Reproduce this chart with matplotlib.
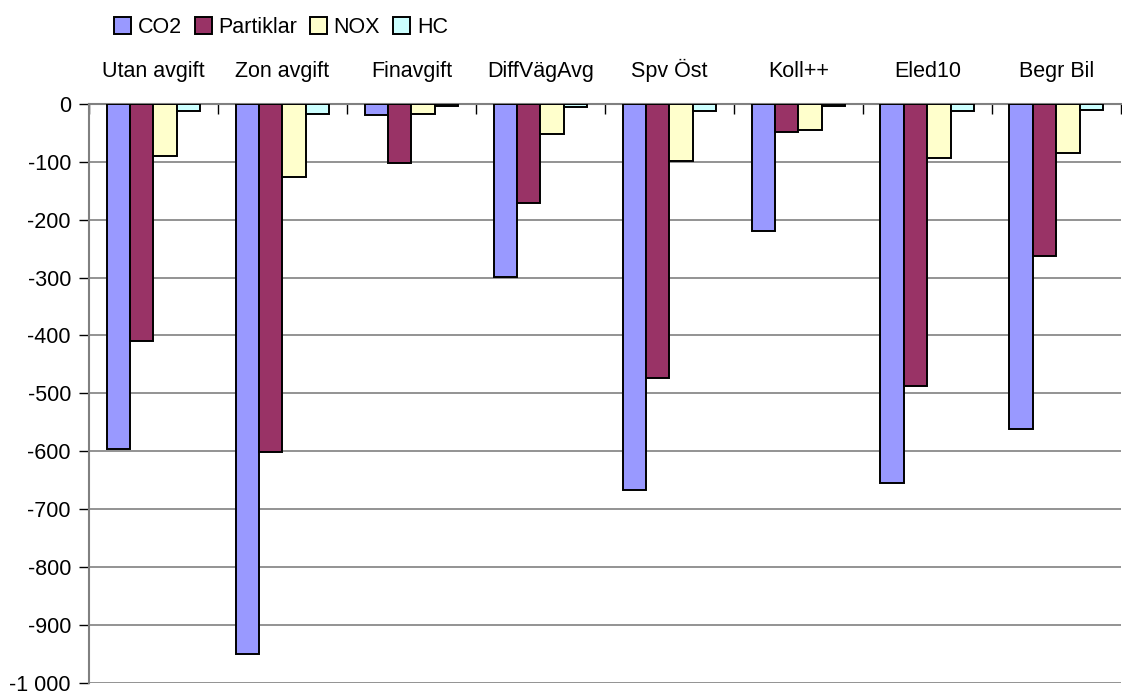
import matplotlib.pyplot as plt
import matplotlib.ticker as mticker
import numpy as np

plt.rcParams['font.family'] = ['Liberation Sans', 'DejaVu Sans']

# Data
categories = ["Utan avgift", "Zon avgift", "Finavgift", "DiffVägAvg",
              "Spv Öst", "Koll++", "Eled10", "Begr Bil"]
series_names = ["CO2", "Partiklar", "NOX", "HC"]
co2 = [-596, -951, -19, -299, -667, -219, -655, -562]
partiklar = [-409, -602, -102, -171, -473, -49, -487, -263]
nox = [-90, -126, -18, -52, -98, -45, -94, -85]
hc = [-12, -17, -3, -5, -12, -3, -12, -10]
colors = ['#9999FF', '#993366', '#FFFFCC', '#CCFFFF']

fig = plt.figure(figsize=(11.22, 6.93), dpi=100)
ax = fig.add_axes([0.0793, 0.015, 0.9197, 0.835])

x = np.arange(len(categories))
w = 1 / 5.5
handles = []
for i, (vals, col, name) in enumerate(zip([co2, partiklar, nox, hc], colors, series_names)):
    b = ax.bar(x + (i - 1.5) * w, vals, width=w, color=col, edgecolor='black',
               linewidth=1.4, label=name, zorder=3)
    handles.append(b)

ax.set_xlim(-0.5, len(categories) - 0.5)
ax.set_ylim(-1000, 0)
ax.set_yticks(np.arange(-1000, 1, 100))
ax.yaxis.set_major_formatter(mticker.FuncFormatter(
    lambda v, p: f"{int(v):,}".replace(",", " ")))
ax.grid(axis='y', color='#808080', linewidth=1.2, zorder=0)

ax.xaxis.tick_top()
ax.set_xticks(x)
ax.set_xticklabels(categories)
ax.set_xticks(np.arange(-0.5, len(categories)), minor=True)
ax.tick_params(axis='x', which='major', length=0, pad=16, labelsize=15.5)
ax.tick_params(axis='x', which='minor', direction='in', length=7, width=1, color='black')
ax.tick_params(axis='y', direction='out', length=7, width=1, labelsize=15.5, pad=6)

for s in ['right', 'bottom']:
    ax.spines[s].set_visible(False)
ax.spines['left'].set_color('#808080')
ax.spines['left'].set_linewidth(1.5)
ax.spines['top'].set_color('#808080')
ax.spines['top'].set_linewidth(1.5)

fig.legend(handles=handles, labels=series_names, loc='upper left',
           bbox_to_anchor=(0.088, 0.997), ncol=4, frameon=False, fontsize=15.5,
           handlelength=0.8, handleheight=0.8, handletextpad=0.3,
           columnspacing=0.6, borderaxespad=0.3)

plt.savefig("out.png", dpi=100)
